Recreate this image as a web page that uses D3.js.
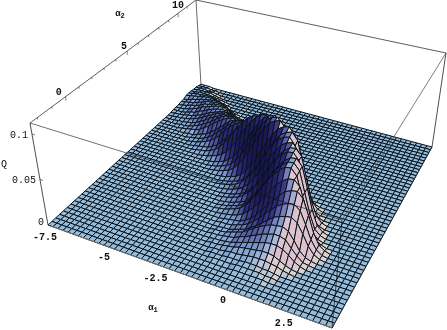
<!DOCTYPE html>
<html>
<head>
<meta charset="utf-8">
<script src="https://cdn.jsdelivr.net/npm/d3@7"></script>
<style>
html, body { margin: 0; padding: 0; background: #fff; overflow: hidden; }
svg { display: block; filter: blur(0.4px); }
text { font-family: "Liberation Mono", monospace; fill: #111; }
</style>
</head>
<body>
<script>
//AXIS VALUES
const a1Domain = [-7.5, 3.5];
const a2Domain = [-2.5, 12];
const qDomain = [0, 0.112];
const a1Ticks = [-7.5, -5, -2.5, 0, 2.5];
const a2Ticks = [0, 5, 10];
const a2MinorTicks = [-2, -1, 0, 1, 2, 3, 4, 5, 6, 7, 8, 9, 10, 11];
const qTicks = [0, 0.05, 0.1];

//SURFACE VALUES, Q x 1000, ONE ROW PER a2 GRID LINE FROM THE FRONT (ROW 4) TO THE BACK. EVERYTHING ELSE IS 0
const gridCells = 50;
const firstRow = 4;
const rowStart = [22,22,22,23,23,24,24,24,25,25,25,24,23,23,23,22,22,21,20,20,19,17,16,15,13,11,10,8,7,6,4,3,2,1,0,-1,-2,-3,-4,-5,-7,-8,-9,-10,-11,-12,-13];
const rowValues = [
  [0,0,0,0,0,0,0,0,0,0,1,1,1,1,1,1,0,0,0],
  [0,0,0,0,0,0,1,1,1,1,2,2,2,2,2,1,1,0,0],
  [0,0,0,0,0,1,1,1,2,2,2,3,3,3,2,2,1,0,0],
  [0,0,0,0,1,1,2,3,3,4,5,6,6,6,5,4,2,1,0],
  [0,0,0,1,1,2,3,4,6,7,8,9,10,10,9,6,3,1,0],
  [0,0,1,1,2,3,5,7,9,11,13,15,16,16,14,10,5,2,0],
  [0,1,1,2,3,4,7,9,12,15,18,20,22,22,20,13,7,2,1],
  [0,1,1,2,4,6,8,12,16,20,23,26,27,28,25,17,8,3,1],
  [0,1,1,3,5,7,11,15,20,25,30,33,35,36,32,22,11,4,1],
  [1,1,2,4,6,9,14,19,26,32,38,42,45,46,41,28,14,5,1],
  [1,2,3,4,7,11,17,24,31,39,46,52,55,56,50,34,17,6,2],
  [1,2,3,5,8,13,19,26,35,44,52,58,62,63,57,38,19,6,2],
  [1,2,4,6,9,14,21,29,39,49,57,64,69,70,63,42,21,7,2],
  [1,2,4,6,9,14,22,30,40,50,59,66,71,72,65,43,22,7,2],
  [1,2,4,6,9,15,22,31,41,51,60,67,72,73,66,44,22,7,2],
  [1,2,4,6,10,15,22,31,41,52,61,68,73,74,67,44,22,7,2],
  [1,2,4,6,10,15,22,32,42,52,62,69,74,75,68,45,22,8,2],
  [1,2,4,6,10,15,23,32,43,53,62,70,74,76,68,46,23,8,2],
  [1,2,4,6,10,15,23,32,43,54,63,71,75,77,69,46,23,8,2],
  [1,2,4,6,10,16,24,33,44,55,65,73,77,79,71,47,24,8,2],
  [1,2,4,6,10,16,24,34,45,56,66,74,78,80,72,48,24,8,2],
  [1,2,4,6,10,16,24,34,45,56,66,74,78,80,72,48,24,8,2],
  [1,2,4,6,10,16,24,33,44,55,65,73,77,79,71,47,24,8,2],
  [1,2,4,6,10,15,23,32,43,53,62,70,74,76,68,46,23,8,2],
  [1,2,4,6,9,14,21,29,39,49,57,64,69,70,63,42,21,7,2],
  [1,2,3,5,8,12,19,26,35,43,51,57,61,62,56,37,19,6,2],
  [1,2,3,4,7,10,16,22,29,36,43,48,51,52,47,31,16,5,2],
  [0,1,2,4,6,9,13,18,25,31,36,40,43,44,40,26,13,4,1],
  [0,1,2,3,5,8,12,17,22,28,33,37,39,40,36,24,12,4,1],
  [0,1,1,3,5,7,11,15,20,25,30,33,35,36,32,22,11,4,1],
  [0,1,2,3,4,6,10,13,18,22,26,29,31,32,29,19,10,3,1],
  [0,1,1,2,4,6,9,12,16,20,24,27,28,29,26,17,9,3,1],
  [0,1,1,2,3,5,8,11,15,18,21,24,25,26,23,16,8,3,1],
  [0,1,1,2,3,5,7,10,13,16,19,21,23,23,21,14,7,2,1],
  [0,1,1,2,3,4,6,8,11,14,16,18,20,20,18,12,6,2,1],
  [0,1,1,1,2,4,5,8,10,13,15,17,18,18,16,11,5,2,1],
  [0,1,1,1,2,3,5,7,10,12,14,16,17,17,15,10,5,2,1],
  [0,0,1,1,2,3,5,6,8,11,12,14,15,15,14,9,5,2,0],
  [0,0,0,1,2,3,4,5,7,9,11,12,13,13,12,8,4,1,0],
  [0,0,0,1,1,2,3,5,6,8,9,10,11,11,10,7,3,1,0],
  [0,0,0,1,1,2,3,4,5,6,7,8,9,9,8,5,3,1,0],
  [0,0,0,0,1,1,2,3,4,5,6,6,7,7,6,4,2,1,0],
  [0,0,0,0,1,1,2,2,3,4,4,5,5,5,4,3,2,1,0],
  [0,0,0,0,0,1,1,2,2,3,3,4,4,4,4,2,1,0,0],
  [0,0,0,0,0,1,1,1,2,2,2,3,3,3,2,2,1,0,0],
  [0,0,0,0,0,0,1,1,1,1,2,2,2,2,2,1,1,0,0],
  [0,0,0,0,0,0,0,0,0,0,1,1,1,1,1,1,0,0,0]
];

//USEFUL VARIABLES
const svgwidth = 447;
const svgheight = 330;

//CAMERA: WHERE THE BOX CORNERS LAND, ORDER IS (u,v) = (0,0) (1,0) (1,1) (0,1)
const floorCorners = [[48, 225], [332, 328], [432, 147], [201, 85]];
const topCorners = [[30, 123], [342, 220], [446, 53], [196, 0]];

//UNIT SQUARE TO QUAD
const homography = (p) => {
  const dx1 = p[1][0] - p[2][0], dx2 = p[3][0] - p[2][0], sx = p[0][0] - p[1][0] + p[2][0] - p[3][0];
  const dy1 = p[1][1] - p[2][1], dy2 = p[3][1] - p[2][1], sy = p[0][1] - p[1][1] + p[2][1] - p[3][1];
  const den = dx1 * dy2 - dx2 * dy1;
  const g = (sx * dy2 - dx2 * sy) / den;
  const h = (dx1 * sy - sx * dy1) / den;
  const a = p[1][0] - p[0][0] + g * p[1][0], b = p[3][0] - p[0][0] + h * p[3][0];
  const d = p[1][1] - p[0][1] + g * p[1][1], e = p[3][1] - p[0][1] + h * p[3][1];
  return (u, v) => {
    const w = g * u + h * v + 1;
    return [(a * u + b * v + p[0][0]) / w, (d * u + e * v + p[0][1]) / w];
  };
};
const floorMap = homography(floorCorners);
const topMap = homography(topCorners);

//SCALES
const U = d3.scaleLinear().domain(a1Domain).range([0, 1]);
const V = d3.scaleLinear().domain(a2Domain).range([0, 1]);
const H = d3.scaleLinear().domain(qDomain).range([0, 1]);
const gridA1 = d3.scaleLinear().domain([0, gridCells]).range(a1Domain);
const gridA2 = d3.scaleLinear().domain([0, gridCells]).range(a2Domain);

const project = (a1, a2, q) => {
  const f = floorMap(U(a1), V(a2));
  const t = topMap(U(a1), V(a2));
  return d3.interpolateNumberArray(f, t)(H(q));
};

//GRID OF HEIGHTS
const grid = d3.range(gridCells + 1).map(() => new Array(gridCells + 1).fill(0));
rowValues.forEach((row, r) => {
  row.forEach((val, k) => {
    const c = rowStart[r] + k;
    if (c >= 0 && c <= gridCells) grid[firstRow + r][c] = val;
  });
});

//COLOUR FROM THE SLOPE OF THE CELL
const flankRamp = d3.scaleLinear()
  .domain([-9, -4, -1, 0, 1, 3, 6, 10])
  .range(["#f4f0a8", "#f0e6b8", "#ddd8cc", "#97bcda", "#86a6d0", "#5f62a8", "#2e2874", "#1a1450"])
  .clamp(true);
const cellColor = (su, sv) => {
  const pink = Math.max(0, Math.min(1, (sv - 2.6 * su) / 14));
  return d3.interpolateRgb(flankRamp(su), "#d8b4d4")(pink * 0.75);
};

//CELLS, BACK ROW FIRST SO THE FRONT ONES PAINT OVER
const cells = [];
for (let j = gridCells - 1; j >= 0; j--) {
  for (let i = 0; i < gridCells; i++) {
    const q00 = grid[j][i], q10 = grid[j][i + 1], q01 = grid[j + 1][i], q11 = grid[j + 1][i + 1];
    cells.push({
      pts: [
        project(gridA1(i), gridA2(j), q00 / 1000),
        project(gridA1(i + 1), gridA2(j), q10 / 1000),
        project(gridA1(i + 1), gridA2(j + 1), q11 / 1000),
        project(gridA1(i), gridA2(j + 1), q01 / 1000)
      ],
      su: (q10 + q11 - q00 - q01) / 2,
      sv: (q01 + q11 - q00 - q10) / 2
    });
  }
}

//SVG
const svg = d3.select("body").append("svg")
  .attr("width", svgwidth)
  .attr("height", svgheight);

const edge = (g, a, b, color, width) => {
  g.append("line")
    .attr("x1", a[0]).attr("y1", a[1])
    .attr("x2", b[0]).attr("y2", b[1])
    .attr("stroke", color)
    .attr("stroke-width", width);
};

//BACK EDGES OF THE BOX
const back = svg.append("g");
edge(back, topCorners[0], topCorners[3], "#333", 0.8);
edge(back, topCorners[3], topCorners[2], "#333", 0.8);
edge(back, topCorners[3], floorCorners[3], "#444", 0.8);
edge(back, topCorners[2], floorCorners[2], "#222", 0.8);
edge(back, topCorners[0], floorCorners[0], "#222", 0.8);

//THE SURFACE
const quadLine = d3.line().curve(d3.curveLinearClosed);
svg.append("g").selectAll("path")
  .data(cells)
  .join("path")
  .attr("d", d => quadLine(d.pts))
  .attr("fill", d => cellColor(d.su, d.sv))
  .attr("stroke", "#06121c")
  .attr("stroke-width", 1)
  .attr("stroke-linejoin", "round");

//FRONT EDGES OF THE BOX
const front = svg.append("g");
edge(front, topCorners[0], topCorners[1], "#111", 0.6);
edge(front, topCorners[1], topCorners[2], "#444", 0.7);
edge(front, topCorners[1], floorCorners[1], "#111", 0.7);
edge(front, floorCorners[0], floorCorners[1], "#777", 1);
edge(front, floorCorners[1], floorCorners[2], "#333", 0.6);

//a2 TICKS
const a2Start = a2Domain[0];
const qTop = qDomain[1];
svg.append("g").selectAll("line")
  .data(a2MinorTicks)
  .join("line")
  .each(function (d) {
    const p = project(a1Domain[0], d, qTop);
    const len = a2Ticks.includes(d) ? 4 : 2;
    d3.select(this)
      .attr("x1", p[0]).attr("y1", p[1])
      .attr("x2", p[0] + 0.2).attr("y2", p[1] + len);
  })
  .attr("stroke", "#333")
  .attr("stroke-width", 0.6);

//a2 LABELS, SAME HABIT AS a1 BELOW
const a2LabelShift = [[-7, -4], [-3, -5], [0, -8]];
svg.append("g").selectAll("text")
  .data(a2Ticks)
  .join("text")
  .attr("x", (d, i) => project(a1Domain[0], d, qTop)[0] + a2LabelShift[i][0])
  .attr("y", (d, i) => project(a1Domain[0], d, qTop)[1] + a2LabelShift[i][1])
  .attr("dominant-baseline", "middle")
  .attr("text-anchor", "middle")
  .attr("font-size", 10)
  .attr("font-weight", "bold")
  .text(d => d);

//a1 LABELS, EACH ONE PUSHED OFF THE EDGE BY ITS OWN AMOUNT
const a1LabelShift = [[-3, 12], [-2, 11], [-12, 10], [-10, 8], [-19, 6]];
svg.append("g").selectAll("text")
  .data(a1Ticks)
  .join("text")
  .attr("x", (d, i) => project(d, a2Start, 0)[0] + a1LabelShift[i][0])
  .attr("y", (d, i) => project(d, a2Start, 0)[1] + a1LabelShift[i][1])
  .attr("dominant-baseline", "middle")
  .attr("text-anchor", "middle")
  .attr("font-size", 10)
  .attr("font-weight", "bold")
  .text(d => d);

//Q TICKS AND LABELS
const qAxis = svg.append("g");
qAxis.selectAll("line")
  .data(qTicks)
  .join("line")
  .attr("x1", d => project(a1Domain[0], a2Start, d)[0])
  .attr("y1", d => project(a1Domain[0], a2Start, d)[1])
  .attr("x2", d => project(a1Domain[0], a2Start, d)[0] + 3)
  .attr("y2", d => project(a1Domain[0], a2Start, d)[1] + 1)
  .attr("stroke", "#222")
  .attr("stroke-width", 0.6);
qAxis.selectAll("text")
  .data(qTicks)
  .join("text")
  .attr("x", d => project(a1Domain[0], a2Start, d)[0] - 4)
  .attr("y", d => project(a1Domain[0], a2Start, d)[1] + (d === 0 ? -3 : 1))
  .attr("dominant-baseline", "middle")
  .attr("text-anchor", "end")
  .attr("font-size", 10)
  .attr("fill", "#333")
  .text(d => d);

//AXIS TITLES
const title = (x, y, sub) => {
  const t = svg.append("text")
    .attr("x", x).attr("y", y)
    .attr("font-size", 9)
    .attr("font-weight", "bold")
    .attr("text-anchor", "middle")
    .text("α");
  t.append("tspan").attr("dy", 2).attr("font-size", 7).text(sub);
};
title(120, 16, "2");
title(153, 310, "1");
svg.append("text")
  .attr("x", 4).attr("y", 167)
  .attr("font-size", 10)
  .attr("fill", "#333")
  .attr("text-anchor", "middle")
  .text("Q");
</script>
</body>
</html>
